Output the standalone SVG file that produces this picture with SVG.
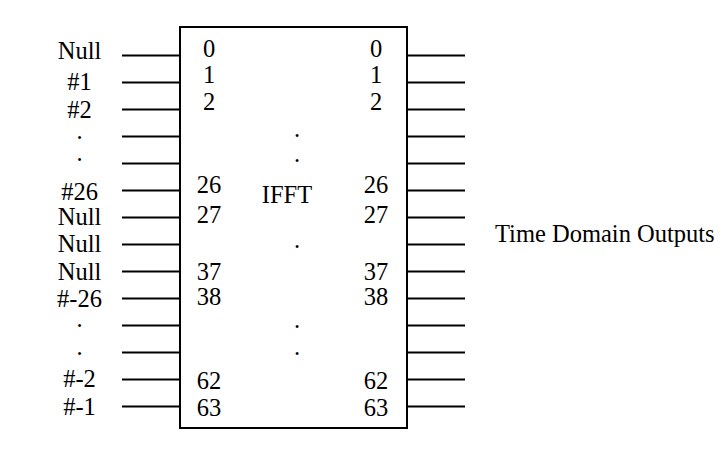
<svg xmlns="http://www.w3.org/2000/svg" width="724" height="462" viewBox="0 0 724 462">
<style>
text{font-family:'Liberation Serif','Times New Roman',serif;font-size:24.5px;fill:#000}
.c{text-anchor:middle}
.ln{stroke:#000;stroke-width:2;fill:none}
</style>
<rect width="724" height="462" fill="#fff"/>
<g id="connectors">
<g id="inputs-lines">
<line class="ln" x1="122" y1="55.5" x2="180" y2="55.5"/>
<line class="ln" x1="122" y1="82.5" x2="180" y2="82.5"/>
<line class="ln" x1="122" y1="109.5" x2="180" y2="109.5"/>
<line class="ln" x1="122" y1="136.5" x2="180" y2="136.5"/>
<line class="ln" x1="122" y1="163.5" x2="180" y2="163.5"/>
<line class="ln" x1="122" y1="190.5" x2="180" y2="190.5"/>
<line class="ln" x1="122" y1="217.5" x2="180" y2="217.5"/>
<line class="ln" x1="122" y1="244.5" x2="180" y2="244.5"/>
<line class="ln" x1="122" y1="271.5" x2="180" y2="271.5"/>
<line class="ln" x1="122" y1="298.5" x2="180" y2="298.5"/>
<line class="ln" x1="122" y1="325.5" x2="180" y2="325.5"/>
<line class="ln" x1="122" y1="352.5" x2="180" y2="352.5"/>
<line class="ln" x1="122" y1="379.5" x2="180" y2="379.5"/>
<line class="ln" x1="122" y1="406.5" x2="180" y2="406.5"/>
</g>
<g id="outputs-lines">
<line class="ln" x1="407" y1="55.5" x2="465" y2="55.5"/>
<line class="ln" x1="407" y1="82.5" x2="465" y2="82.5"/>
<line class="ln" x1="407" y1="109.5" x2="465" y2="109.5"/>
<line class="ln" x1="407" y1="136.5" x2="465" y2="136.5"/>
<line class="ln" x1="407" y1="163.5" x2="465" y2="163.5"/>
<line class="ln" x1="407" y1="190.5" x2="465" y2="190.5"/>
<line class="ln" x1="407" y1="217.5" x2="465" y2="217.5"/>
<line class="ln" x1="407" y1="244.5" x2="465" y2="244.5"/>
<line class="ln" x1="407" y1="271.5" x2="465" y2="271.5"/>
<line class="ln" x1="407" y1="298.5" x2="465" y2="298.5"/>
<line class="ln" x1="407" y1="325.5" x2="465" y2="325.5"/>
<line class="ln" x1="407" y1="352.5" x2="465" y2="352.5"/>
<line class="ln" x1="407" y1="379.5" x2="465" y2="379.5"/>
<line class="ln" x1="407" y1="406.5" x2="465" y2="406.5"/>
</g>
</g>
<g id="ifft">
<rect class="ln" x="180" y="27" width="227" height="401"/>
<text class="c" x="287" y="203">IFFT</text>
<g id="center-dots">
<text class="c" x="297" y="137">.</text>
<text class="c" x="297" y="162">.</text>
<text class="c" x="297" y="248">.</text>
<text class="c" x="297" y="328">.</text>
<text class="c" x="297" y="355">.</text>
</g>
<g id="in-ports">
<text class="c" x="209" y="57">0</text>
<text class="c" x="209" y="83">1</text>
<text class="c" x="209" y="110">2</text>
<text class="c" x="209" y="193">26</text>
<text class="c" x="209" y="223">27</text>
<text class="c" x="209" y="280">37</text>
<text class="c" x="209" y="305">38</text>
<text class="c" x="209" y="389">62</text>
<text class="c" x="209" y="416">63</text>
</g>
<g id="out-ports">
<text class="c" x="376" y="57">0</text>
<text class="c" x="376" y="83">1</text>
<text class="c" x="376" y="110">2</text>
<text class="c" x="376" y="193">26</text>
<text class="c" x="376" y="223">27</text>
<text class="c" x="376" y="280">37</text>
<text class="c" x="376" y="305">38</text>
<text class="c" x="376" y="389">62</text>
<text class="c" x="376" y="416">63</text>
</g>
</g>
<g id="input-labels">
<text class="c" x="79.5" y="59">Null</text>
<text class="c" x="79.5" y="90">#1</text>
<text class="c" x="79.5" y="118">#2</text>
<text class="c" x="79.5" y="139">.</text>
<text class="c" x="79.5" y="161">.</text>
<text class="c" x="79.5" y="200">#26</text>
<text class="c" x="79.5" y="225">Null</text>
<text class="c" x="79.5" y="252">Null</text>
<text class="c" x="79.5" y="280">Null</text>
<text class="c" x="79.5" y="307">#-26</text>
<text class="c" x="79.5" y="327">.</text>
<text class="c" x="79.5" y="355">.</text>
<text class="c" x="79.5" y="387">#-2</text>
<text class="c" x="79.5" y="415">#-1</text>
</g>
<g id="output-label">
<text x="495" y="242">Time Domain Outputs</text>
</g>
</svg>
